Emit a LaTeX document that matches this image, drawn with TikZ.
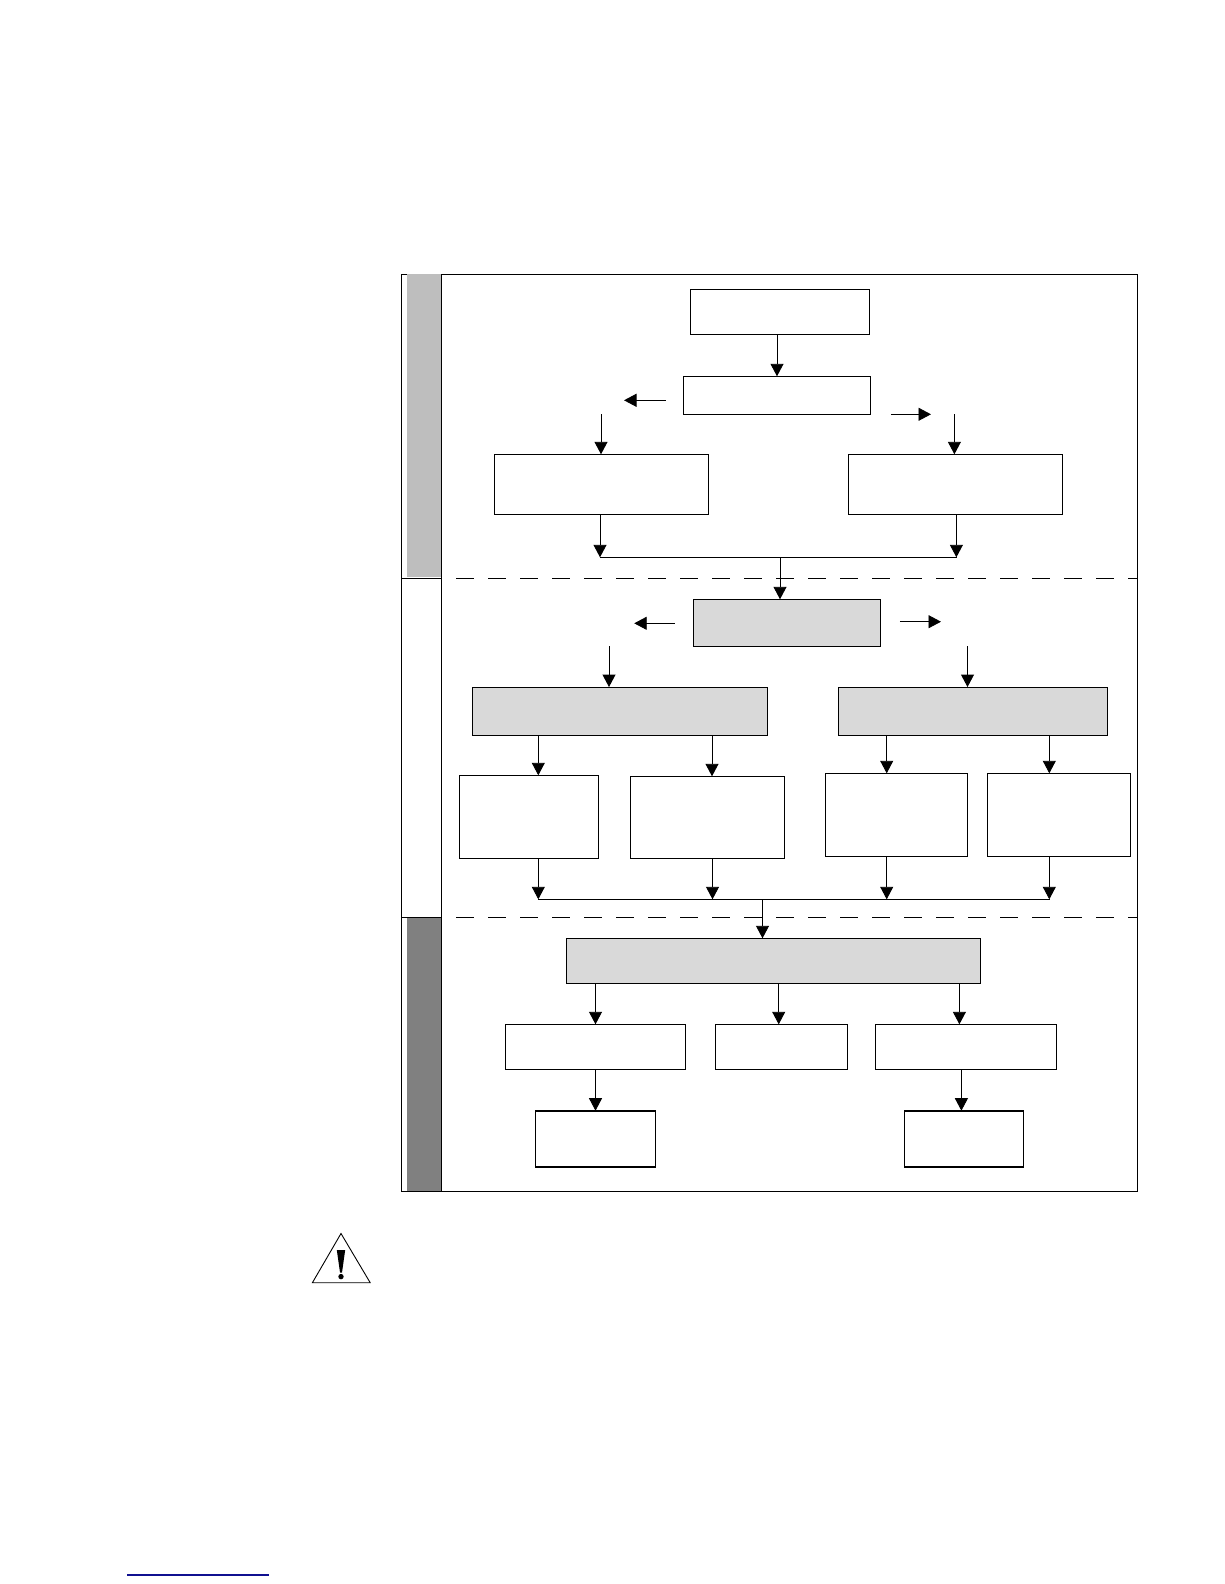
\documentclass[tikz,border=0pt]{standalone}
\usetikzlibrary{arrows.meta,positioning}
\definecolor{bandlight}{HTML}{BEBEBE}
\definecolor{banddark}{HTML}{808080}
\definecolor{boxgray}{HTML}{D9D9D9}
\definecolor{rulenavy}{HTML}{101090}
\begin{document}
\begin{tikzpicture}[x=1pt,y=-1pt,line width=0.9pt,
  whitebox/.style={draw,fill=white,inner sep=0pt,outer sep=0pt},
  graybox/.style={whitebox,fill=boxgray},
  bandbox/.style={inner sep=0pt,outer sep=0pt,minimum width=34.4pt},
  flow/.style={-{Triangle[length=12.5pt,width=13pt]}},
  sepline/.style={dash pattern=on 18pt off 14pt}]
\useasboundingbox (0,0) rectangle (1224,1584);
\node[draw,inner sep=0pt,outer sep=0pt,minimum width=736.5pt,minimum height=917pt] (frame) at (769.25,732.8) {};
\node[bandbox,fill=bandlight,minimum height=303pt] (bandtop) at (424.5,425.8) {};
\node[bandbox,fill=banddark,minimum height=273pt] (bandlow) at (424.5,1054.8) {};
\draw (frame.north -| bandtop.east)--(frame.south -| bandtop.east);

\node[whitebox,minimum width=179pt,minimum height=45pt] (start) at (780,311.8) {};
\node[whitebox,below=42pt of start,xshift=-3pt,minimum width=187pt,minimum height=38pt] (check) {};
\node[whitebox,minimum width=214pt,minimum height=60.4pt] (leftbox) at (601,484.5) {};
\node[whitebox,right=140.3pt of leftbox,minimum width=214pt,minimum height=60.4pt] (rightbox) {};

\node[graybox,minimum width=187pt,minimum height=47.4pt] (decide) at (787.2,623) {};
\node[graybox,minimum width=295pt,minimum height=48.3pt] (grayleft) at (620,711.2) {};
\node[graybox,right=70.7pt of grayleft,minimum width=269.7pt,minimum height=48.3pt] (grayright) {};
\node[whitebox,minimum width=139.4pt,minimum height=83pt] (cella) at (529.2,816.8) {};
\node[whitebox,right=31.3pt of cella,minimum width=154.5pt,minimum height=82pt,yshift=-0.5pt] (cellb) {};
\node[whitebox,minimum width=142.4pt,minimum height=83pt] (cellc) at (896.3,814.8) {};
\node[whitebox,right=20.2pt of cellc,minimum width=142.4pt,minimum height=83pt] (celld) {};

\node[graybox,minimum width=414pt,minimum height=45pt] (wide) at (773.6,960.8) {};
\node[whitebox,minimum width=180.7pt,minimum height=45pt] (lowa) at (595.4,1046.8) {};
\node[whitebox,right=29.3pt of lowa,minimum width=132.3pt,minimum height=45pt] (lowb) {};
\node[whitebox,right=28.3pt of lowb,minimum width=180.8pt,minimum height=45pt] (lowc) {};
\node[whitebox,minimum width=120pt,minimum height=56.6pt] (enda) at (595.4,1139) {};
\node[whitebox,minimum width=119pt,minimum height=56.6pt] (endb) at (963.5,1139) {};
\foreach \e in {enda,endb}
  \draw[line width=2pt] (\e.north west)--(\e.north east) (\e.south west)--(\e.south east);

\coordinate (sepa) at (456,578.3);
\coordinate (sepb) at (456,917.7);
\foreach \s in {sepa,sepb}{
  \draw[sepline] (\s)--(\s -| frame.east);
  \draw (\s -| frame.west)--(\s -| bandtop.east);
}

\coordinate (raila) at (780,557.3);
\coordinate (railb) at (762.5,899.3);
\draw (raila -| 600,0)--(raila -| 956.9,0);
\draw (railb -| 538.3,0)--(railb -| 1049.7,0);
\draw[flow] (raila)--(decide.north -| raila);
\draw[flow] (railb)--(wide.north -| railb);

\foreach \a/\x in {leftbox/600,rightbox/956.4}
  \draw[flow] (\a.south -| \x,0)--(raila -| \x,0);
\foreach \a/\x in {cella/538.3,cellb/712.5,cellc/886.7,celld/1049.3}
  \draw[flow] (\a.south -| \x,0)--(railb -| \x,0);
\foreach \a/\b/\x in {start/check/777,grayleft/cella/538.3,grayleft/cellb/712,grayright/cellc/886.7,grayright/celld/1049.3,wide/lowa/595.5,wide/lowb/778.7,wide/lowc/959.4,lowa/enda/595.5,lowc/endb/961.4}
  \draw[flow] (\a.south -| \x,0)--(\b.north -| \x,0);

\coordinate (outa) at (665.5,400.3);
\coordinate (tipa) at (624,400.3);
\coordinate (outb) at (890.8,414.3);
\coordinate (tipb) at (931,414.3);
\coordinate (outc) at (674.6,623.3);
\coordinate (tipc) at (634.2,623.3);
\coordinate (outd) at (899.8,621.7);
\coordinate (tipd) at (941,621.7);
\foreach \a/\b in {outa/tipa,outb/tipb,outc/tipc,outd/tipd}
  \draw[flow] (\a)--(\b);

\coordinate (ina) at (601,414);
\coordinate (inb) at (954.4,414);
\coordinate (inc) at (609,646);
\coordinate (ind) at (967.5,646);
\draw[flow] (ina)--(leftbox.north -| ina);
\draw[flow] (inb)--(rightbox.north -| inb);
\draw[flow] (inc)--(grayleft.north -| inc);
\draw[flow] (ind)--(grayright.north -| ind);

\draw[line join=miter] (341,1233.5)--(312.4,1282.7)--(370.2,1282.7)--cycle;
\fill (336.8,1250)--(345.2,1250)--(342,1272.5)--(340,1272.5)--cycle;
\fill (341,1276.6) circle (2.7);
\draw[rulenavy,line width=1.2pt] (127,1575)--(269,1575);
\end{tikzpicture}
\end{document}
